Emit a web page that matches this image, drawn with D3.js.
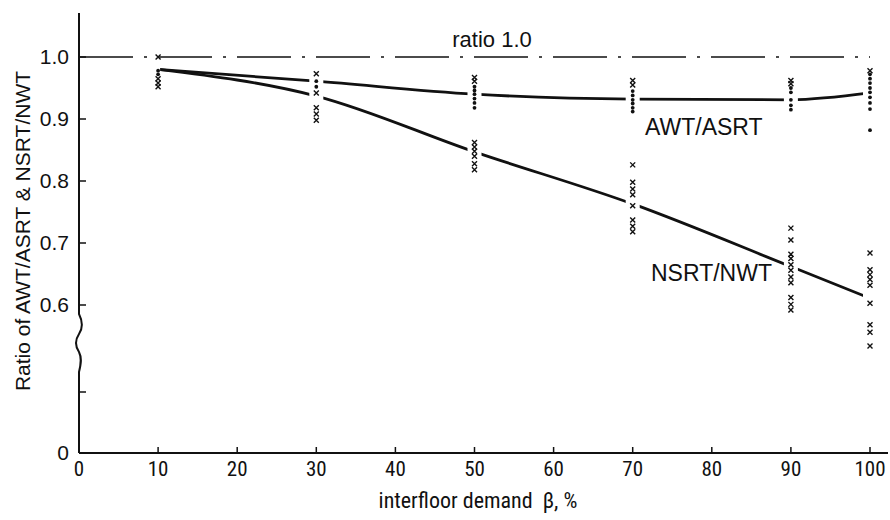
<!DOCTYPE html>
<html><head><meta charset="utf-8">
<script src="https://cdn.jsdelivr.net/npm/d3@7"></script>
<style>
html,body{margin:0;padding:0;background:#fff;}
svg{display:block;}
.cond{font-family:"Liberation Sans Narrow","Roboto Condensed","Liberation Sans",Arial,sans-serif;font-stretch:condensed;}
.sans{font-family:"Liberation Sans",Arial,Helvetica,sans-serif;}
</style></head>
<body>
<svg id="chart" width="890" height="520"></svg>
<script>
// ---- data ----
const xs = [10, 30, 50, 70, 90, 100];
const awtMean  = [0.980, 0.961, 0.940, 0.932, 0.931, 0.942];
const nsrtMean = [0.980, 0.937, 0.847, 0.763, 0.662, 0.611];
const awtDots = [
  [0.978, 0.972],
  [0.961, 0.952],
  [0.952, 0.946, 0.940, 0.933, 0.926, 0.918],
  [0.945, 0.938, 0.931, 0.925, 0.918, 0.912],
  [0.950, 0.943, 0.931, 0.922, 0.915],
  [0.972, 0.965, 0.958, 0.950, 0.943, 0.935, 0.926, 0.916, 0.882]
];
const awtCross = [
  [1.0],
  [0.973],
  [0.967, 0.961],
  [0.962, 0.955],
  [0.962, 0.957],
  [0.978]
];
const nsrtCross = [
  [0.965, 0.958, 0.952],
  [0.942, 0.918, 0.908, 0.898],
  [0.862, 0.855, 0.848, 0.840, 0.828, 0.818],
  [0.826, 0.798, 0.787, 0.778, 0.760, 0.737, 0.727, 0.718],
  [0.724, 0.705, 0.682, 0.675, 0.665, 0.656, 0.645, 0.636, 0.612, 0.601, 0.592],
  [0.684, 0.657, 0.649, 0.641, 0.632, 0.603, 0.568, 0.556, 0.534]
];
const xTicks = [0, 10, 20, 30, 40, 50, 60, 70, 80, 90, 100];
const yTicksUpper = [0.6, 0.7, 0.8, 0.9, 1.0];
const yTickLabelsUpper = ["0.6", "0.7", "0.8", "0.9", "1.0"];
const yTicksLower = [0, 0.1];
const yTickLabelsLower = ["0", ""];
const refValue = 1.0;

// ---- scales ----
const svg = d3.select("#chart");
const x = d3.scaleLinear().domain([0, 100]).range([79, 870]);
const yU = d3.scaleLinear().domain([0.6, 1.0]).range([305, 57]);   // upper (broken) part
const yL = d3.scaleLinear().domain([0, 0.1]).range([453, 392]);    // lower part near zero
const axisY = 453, axisX = 79;

// ---- axes ----
const g = svg.append("g");
g.append("line").attr("x1", axisX).attr("x2", 888).attr("y1", axisY).attr("y2", axisY)
  .attr("stroke", "#111").attr("stroke-width", 2);
g.selectAll(".xt").data(xTicks).join("line")
  .attr("x1", d => x(d)).attr("x2", d => x(d))
  .attr("y1", axisY).attr("y2", axisY - 6)
  .attr("stroke", "#111").attr("stroke-width", 1.5);
g.selectAll(".xl").data(xTicks).join("text").attr("class", "cond")
  .attr("x", d => x(d)).attr("y", 476)
  .attr("text-anchor", "middle").attr("font-size", 21).attr("fill", "#111")
  .text(d => d);
g.append("text").attr("class", "cond").attr("x", 478).attr("y", 508)
  .attr("text-anchor", "middle").attr("font-size", 22).attr("fill", "#111")
  .text("interfloor demand\u00a0\u00a0β, %");

// y axis with break
const breakTop = 314, breakBot = 372;
const axisPath = d3.path();
axisPath.moveTo(axisX, 13);
axisPath.lineTo(axisX, breakTop);
axisPath.bezierCurveTo(axisX + 4, breakTop + 8, axisX + 4, breakTop + 14, axisX, breakTop + 20);
axisPath.bezierCurveTo(axisX - 4, breakTop + 26, axisX - 4, breakTop + 32, axisX, breakTop + 38);
axisPath.bezierCurveTo(axisX + 3, breakTop + 44, axisX + 2, breakTop + 50, axisX, breakBot);
axisPath.lineTo(axisX, axisY);
g.append("path").attr("d", axisPath.toString()).attr("fill", "none")
  .attr("stroke", "#111").attr("stroke-width", 2);
const yTickData = yTicksUpper.map((v, i) => ({y: yU(v), label: yTickLabelsUpper[i]}))
  .concat(yTicksLower.map((v, i) => ({y: yL(v), label: yTickLabelsLower[i]})));
g.selectAll(".yt").data(yTickData).join("line")
  .attr("x1", axisX).attr("x2", axisX + 7)
  .attr("y1", d => d.y).attr("y2", d => d.y)
  .attr("stroke", "#111").attr("stroke-width", 1.5);
g.selectAll(".yl").data(yTickData).join("text").attr("class", "sans")
  .attr("x", 69).attr("y", d => d.y + 7)
  .attr("text-anchor", "end").attr("font-size", 21).attr("fill", "#111")
  .text(d => d.label);
g.append("text").attr("class", "sans")
  .attr("transform", "translate(30,231) rotate(-90)")
  .attr("text-anchor", "middle").attr("font-size", 21).attr("fill", "#111")
  .text("Ratio of AWT/ASRT & NSRT/NWT");

// ---- ratio 1.0 reference (dash-dot) ----
g.append("line").attr("x1", axisX).attr("x2", x(100))
  .attr("y1", yU(refValue)).attr("y2", yU(refValue))
  .attr("stroke", "#111").attr("stroke-width", 1.7)
  .attr("stroke-dasharray", "54,11,3,11");
g.append("text").attr("class", "sans").attr("x", 492).attr("y", 47)
  .attr("text-anchor", "middle").attr("font-size", 22).attr("fill", "#111")
  .text("ratio 1.0");

// ---- mask to leave gaps in the curves at each data column ----
const defs = svg.append("defs");
const mask = defs.append("mask").attr("id", "gaps");
mask.append("rect").attr("x", 0).attr("y", 0).attr("width", 890).attr("height", 520).attr("fill", "#fff");
mask.selectAll("rect.gap").data(xs.slice(1)).join("rect").attr("class", "gap")
  .attr("x", d => x(d) - 7).attr("width", 14).attr("y", 0).attr("height", 520).attr("fill", "#000");
mask.append("rect").attr("x", 0).attr("width", x(xs[0]) + 2).attr("y", 0).attr("height", 520).attr("fill", "#000");

const line = d3.line().x(d => x(d[0])).y(d => yU(d[1])).curve(d3.curveMonotoneX);
const curves = svg.append("g").attr("mask", "url(#gaps)");
curves.append("path").attr("d", line(xs.map((v, i) => [v, awtMean[i]])))
  .attr("fill", "none").attr("stroke", "#111").attr("stroke-width", 2.8);
curves.append("path").attr("d", line(xs.map((v, i) => [v, nsrtMean[i]])))
  .attr("fill", "none").attr("stroke", "#111").attr("stroke-width", 2.8);

// ---- scatter markers ----
function flat(arr) {
  const out = [];
  arr.forEach((vals, i) => vals.forEach(v => out.push([xs[i], v])));
  return out;
}
const pts = svg.append("g");
pts.selectAll("circle").data(flat(awtDots)).join("circle")
  .attr("cx", d => x(d[0])).attr("cy", d => yU(d[1])).attr("r", 1.9).attr("fill", "#111");
const crossPath = d => {
  const cx = x(d[0]), cy = yU(d[1]), s = 2.5;
  return `M${cx - s},${cy - s}L${cx + s},${cy + s}M${cx + s},${cy - s}L${cx - s},${cy + s}`;
};
pts.selectAll("path.c").data(flat(awtCross).concat(flat(nsrtCross))).join("path").attr("class", "c")
  .attr("d", crossPath).attr("stroke", "#111").attr("stroke-width", 1.4).attr("fill", "none");

// ---- series labels ----
svg.append("text").attr("class", "sans").attr("x", 645).attr("y", 135)
  .attr("font-size", 23).attr("fill", "#111").text("AWT/ASRT");
svg.append("text").attr("class", "sans").attr("x", 651).attr("y", 281)
  .attr("font-size", 23).attr("fill", "#111").text("NSRT/NWT");
</script>
</body></html>
